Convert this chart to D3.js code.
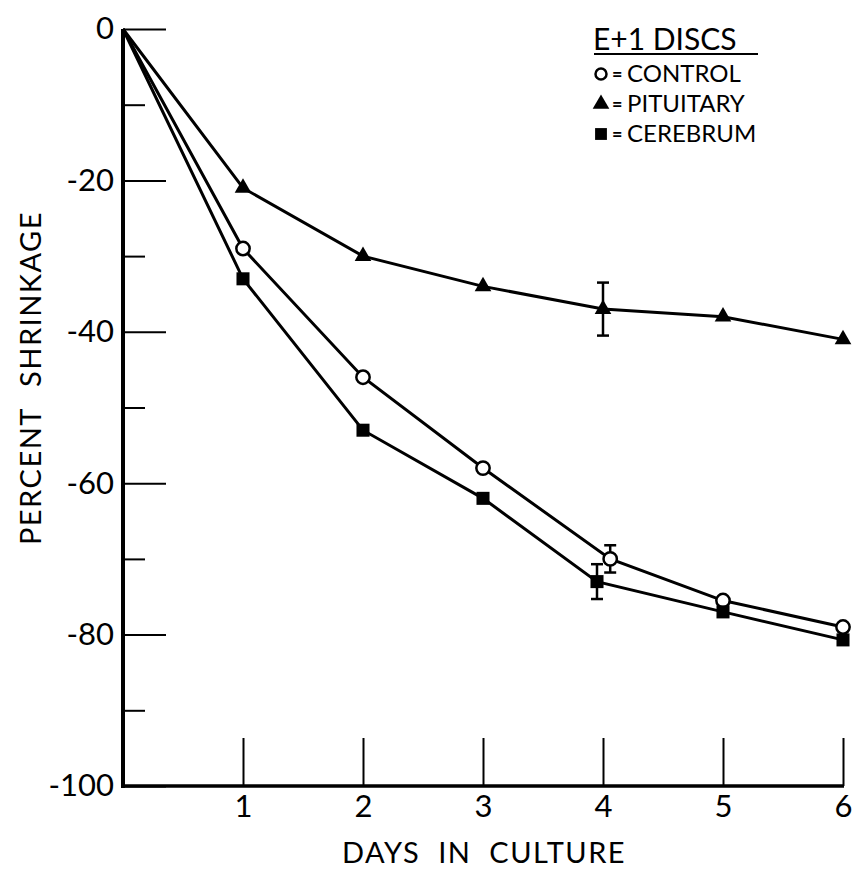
<!DOCTYPE html>
<html>
<head>
<meta charset="utf-8">
<script src="https://cdn.jsdelivr.net/npm/d3@7"></script>
<style>
    body { margin: 0; background: #fff; }
    svg text { font-family: Lato, "Liberation Sans", sans-serif; fill: #000; }
</style>
</head>
<body>
<div id="chart"></div>
<script>
// data
const days = [0, 1, 2, 3, 4, 5, 6];
const controlDays = [0, 1, 2, 3, 4.06, 5, 6];
const cerebrumDays = [0, 1, 2, 3, 3.95, 5, 6];
const control = [0, -29, -46, -58, -70, -75.5, -79];
const pituitary = [0, -21, -30, -34, -37, -38, -41];
const cerebrum = [0, -33, -53, -62, -73, -77, -80.7];
// error bars (day index -> +/- value)
const controlErr = [null, null, null, null, 1.8, null, null];
const pituitaryErr = [null, null, null, null, 3.5, null, null];
const cerebrumErr = [null, null, null, null, 2.3, null, null];

const yMajorTicks = [0, -20, -40, -60, -80, -100];
const yMinorTicks = [-10, -30, -50, -70, -90];
const xTicks = [1, 2, 3, 4, 5, 6];
const legendTitle = 'E+1 DISCS';
const legendLabels = ['CONTROL', 'PITUITARY', 'CEREBRUM'];

function main() {
    // set dimensions
    const w = 858;
    const h = 874;

    const x_scale = d3.scaleLinear().domain([0, 6]).range([123, 843]);
    const y_scale = d3.scaleLinear().domain([-100, 0]).range([786, 29]);

    const svg = d3.select('#chart')
        .append('svg')
        .attr('width', w)
        .attr('height', h);

    // y ticks (inside, pointing right)
    svg.append('g')
        .attr('transform', `translate(${x_scale(0)}, 0)`)
        .call(d3.axisRight(y_scale).tickValues(yMajorTicks).tickSize(43).tickSizeOuter(0).tickFormat(''))
        .call(g => g.select('.domain').remove())
        .call(g => g.selectAll('line').attr('stroke', '#000').attr('stroke-width', 2));

    svg.append('g')
        .attr('transform', `translate(${x_scale(0)}, 0)`)
        .call(d3.axisRight(y_scale).tickValues(yMinorTicks).tickSize(22).tickSizeOuter(0).tickFormat(''))
        .call(g => g.select('.domain').remove())
        .call(g => g.selectAll('line').attr('stroke', '#000').attr('stroke-width', 2));

    // y labels
    svg.append('g')
        .attr('transform', `translate(${x_scale(0)}, 0)`)
        .call(d3.axisLeft(y_scale).tickValues(yMajorTicks).tickSize(0).tickPadding(9).tickFormat(d => String(d)))
        .call(g => g.select('.domain').remove())
        .call(g => g.selectAll('text').attr('font-size', 31).attr('font-family', 'Lato, sans-serif'));

    // x ticks (inside, pointing up)
    svg.append('g')
        .attr('transform', `translate(0, ${y_scale(-100)})`)
        .call(d3.axisTop(x_scale).tickValues(xTicks).tickSize(48).tickSizeOuter(0).tickFormat(''))
        .call(g => g.select('.domain').remove())
        .call(g => g.selectAll('line').attr('stroke', '#000').attr('stroke-width', 2));

    svg.append('g')
        .attr('transform', `translate(0, ${y_scale(-100)})`)
        .call(d3.axisBottom(x_scale).tickValues(xTicks).tickSize(0).tickPadding(9).tickFormat(d3.format('d')))
        .call(g => g.select('.domain').remove())
        .call(g => g.selectAll('text').attr('font-size', 31).attr('font-family', 'Lato, sans-serif'));

    // axis lines
    svg.append('line')
        .attr('x1', x_scale(0)).attr('x2', x_scale(0))
        .attr('y1', y_scale(0)).attr('y2', y_scale(-100) + 2)
        .attr('stroke', '#000').attr('stroke-width', 4);
    svg.append('line')
        .attr('x1', x_scale(0) - 2).attr('x2', x_scale(6) + 1)
        .attr('y1', y_scale(-100)).attr('y2', y_scale(-100))
        .attr('stroke', '#000').attr('stroke-width', 3.5);

    // axis titles
    svg.append('text')
        .attr('x', 484).attr('y', 863)
        .attr('text-anchor', 'middle')
        .attr('font-size', 29)
        .attr('letter-spacing', 1.5)
        .attr('word-spacing', 9)
        .text('DAYS IN CULTURE');
    svg.append('text')
        .attr('transform', 'translate(41, 378) rotate(-90)')
        .attr('text-anchor', 'middle')
        .attr('font-size', 29)
        .attr('letter-spacing', 1.5)
        .attr('word-spacing', 12)
        .text('PERCENT SHRINKAGE');

    const line = d3.line()
        .x(d => x_scale(d[0]))
        .y(d => y_scale(d[1]));

    const series = [
        { xs: days, ys: pituitary, err: pituitaryErr, shape: 'triangle' },
        { xs: controlDays, ys: control, err: controlErr, shape: 'circle' },
        { xs: cerebrumDays, ys: cerebrum, err: cerebrumErr, shape: 'square' }
    ];

    series.forEach(s => {
        const pts = s.xs.map((x, i) => [x, s.ys[i], s.err[i]]);
        svg.append('path')
            .datum(pts)
            .attr('d', line)
            .attr('fill', 'none')
            .attr('stroke', '#000')
            .attr('stroke-width', 3);

        // error bars
        const eb = svg.append('g').selectAll('g')
            .data(pts.filter(d => d[2] != null))
            .enter().append('g')
            .attr('stroke', '#000').attr('stroke-width', 2.5);
        eb.append('line')
            .attr('x1', d => x_scale(d[0])).attr('x2', d => x_scale(d[0]))
            .attr('y1', d => y_scale(d[1] + d[2])).attr('y2', d => y_scale(d[1] - d[2]));
        eb.append('line')
            .attr('x1', d => x_scale(d[0]) - 6).attr('x2', d => x_scale(d[0]) + 6)
            .attr('y1', d => y_scale(d[1] + d[2])).attr('y2', d => y_scale(d[1] + d[2]));
        eb.append('line')
            .attr('x1', d => x_scale(d[0]) - 6).attr('x2', d => x_scale(d[0]) + 6)
            .attr('y1', d => y_scale(d[1] - d[2])).attr('y2', d => y_scale(d[1] - d[2]));

        // markers (skip origin)
        const mk = svg.append('g').selectAll('path')
            .data(pts.slice(1))
            .enter().append('path')
            .attr('transform', d => `translate(${x_scale(d[0])}, ${y_scale(d[1])})`);
        if (s.shape === 'circle') {
            mk.attr('d', d3.symbol(d3.symbolCircle, 140)())
                .attr('fill', '#fff').attr('stroke', '#000').attr('stroke-width', 2.5);
        } else if (s.shape === 'triangle') {
            mk.attr('d', d3.symbol(d3.symbolTriangle, 120)()).attr('fill', '#000');
        } else {
            mk.attr('d', d3.symbol(d3.symbolSquare, 170)()).attr('fill', '#000');
        }
    });

    // legend
    const lg = svg.append('g');
    lg.append('text')
        .attr('x', 593).attr('y', 50)
        .attr('font-size', 30)
        .text(legendTitle);
    lg.append('line')
        .attr('x1', 594).attr('x2', 758)
        .attr('y1', 54).attr('y2', 54)
        .attr('stroke', '#000').attr('stroke-width', 2);

    const shapes = ['circle', 'triangle', 'square'];
    legendLabels.forEach((label, i) => {
        const yb = 82 + i * 30;
        const m = lg.append('path')
            .attr('transform', `translate(601, ${yb - 8})`);
        if (shapes[i] === 'circle') {
            m.attr('d', d3.symbol(d3.symbolCircle, 95)()).attr('fill', '#fff').attr('stroke', '#000').attr('stroke-width', 2.5);
        } else if (shapes[i] === 'triangle') {
            m.attr('d', d3.symbol(d3.symbolTriangle, 120)()).attr('fill', '#000');
        } else {
            m.attr('d', d3.symbol(d3.symbolSquare, 140)()).attr('fill', '#000');
        }
        lg.append('text')
            .attr('x', 612).attr('y', yb - 1)
            .attr('font-size', 18)
            .attr('font-weight', 'bold')
            .text('=');
        lg.append('text')
            .attr('x', 627).attr('y', yb)
            .attr('font-size', 24)
            .text(label);
    });
}

main();
</script>
</body>
</html>
